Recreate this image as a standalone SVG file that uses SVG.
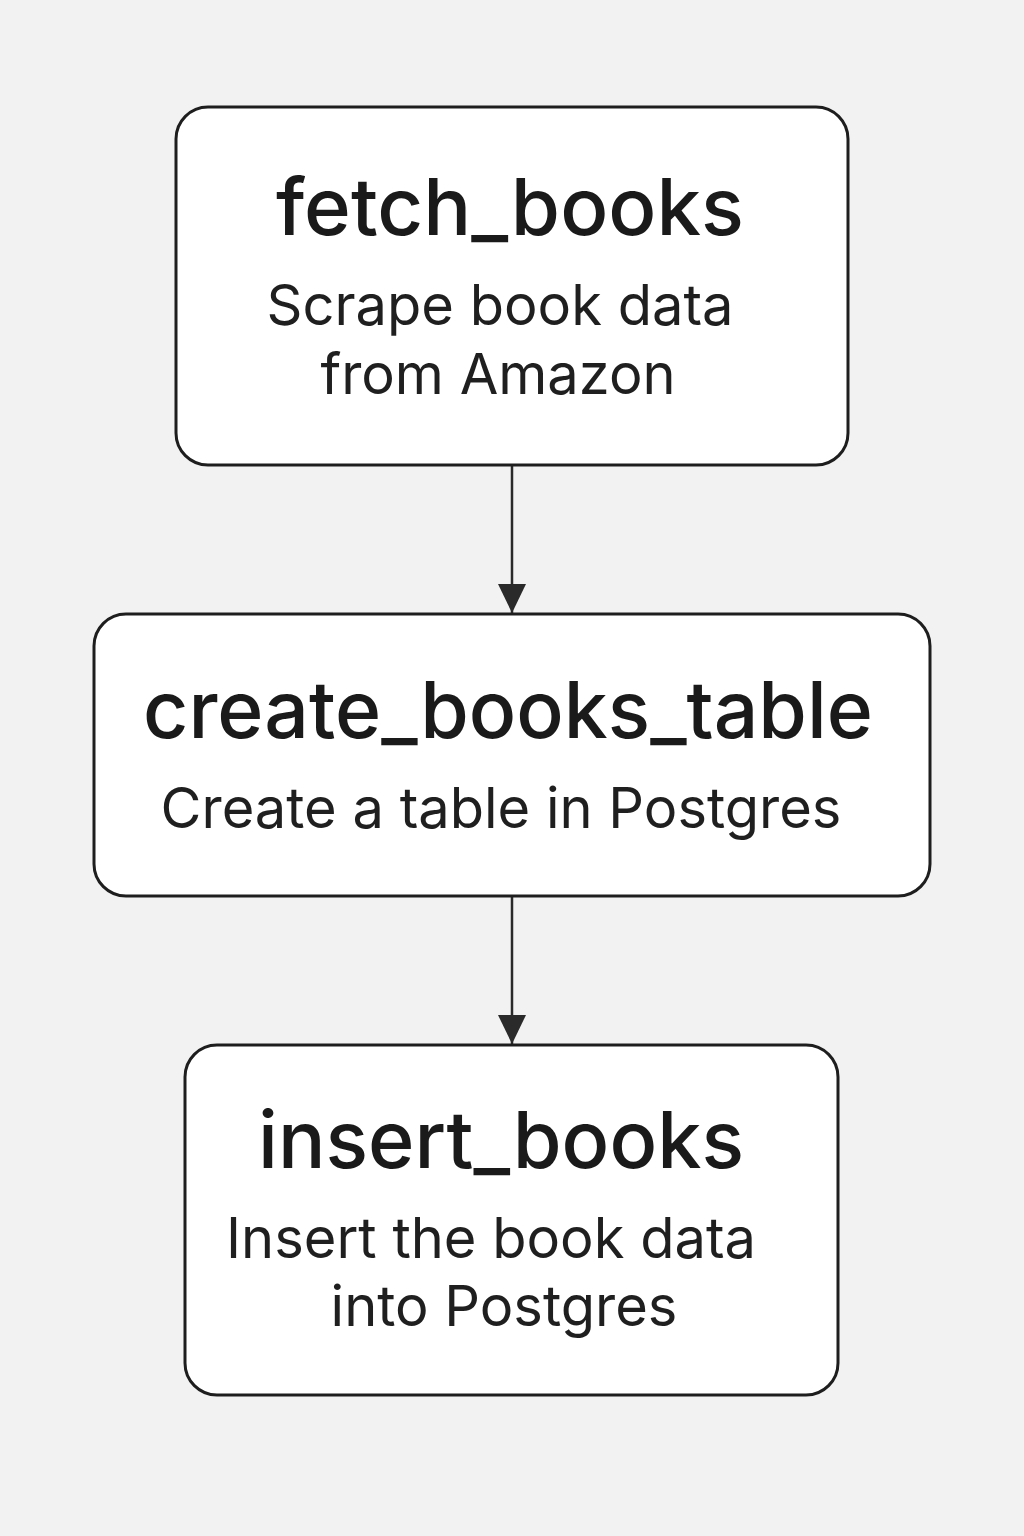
<svg xmlns="http://www.w3.org/2000/svg" width="1024" height="1536" viewBox="0 0 1024 1536">
<style>
.box{fill:#ffffff;stroke:#1e1e1e;stroke-width:3}
.title{font-family:Inter,"Noto Sans","Liberation Sans",sans-serif;font-weight:500;font-size:79px;fill:#1a1a1a;text-anchor:middle}
.sub{font-family:Inter,"Noto Sans","Liberation Sans",sans-serif;font-weight:400;font-size:56px;fill:#1f1f1f;text-anchor:middle}
.edge{stroke:#2a2a2a;stroke-width:2.5;fill:none}
</style>
<defs>
<marker id="arr" markerUnits="userSpaceOnUse" markerWidth="30" markerHeight="30" viewBox="0 0 30 30" refX="29" refY="15" orient="auto">
<path d="M0,1 L29,15 L0,29 Z" fill="#2a2a2a"/>
</marker>
</defs>
<rect width="1024" height="1536" fill="#f2f2f2"/>
<g id="connectors">
<line class="edge" x1="512" y1="466" x2="512" y2="613" marker-end="url(#arr)"/>
<line class="edge" x1="512" y1="897" x2="512" y2="1044" marker-end="url(#arr)"/>
</g>
<g id="fetch_books">
<rect class="box" x="176" y="107" width="672" height="358" rx="32"/>
<text class="title" x="510" y="235" textLength="468" lengthAdjust="spacingAndGlyphs">fetch_books</text>
<text class="sub" x="500" y="325">Scrape book data</text>
<text class="sub" x="498" y="394">from Amazon</text>
</g>
<g id="create_books_table">
<rect class="box" x="94" y="614" width="836" height="282" rx="32"/>
<text class="title" x="508" y="738" textLength="730" lengthAdjust="spacingAndGlyphs">create_books_table</text>
<text class="sub" x="501" y="828">Create a table in Postgres</text>
</g>
<g id="insert_books">
<rect class="box" x="185" y="1045" width="653" height="350" rx="32"/>
<text class="title" x="501" y="1168" textLength="486" lengthAdjust="spacingAndGlyphs">insert_books</text>
<text class="sub" x="491" y="1258">Insert the book data</text>
<text class="sub" x="504" y="1326">into Postgres</text>
</g>
</svg>
